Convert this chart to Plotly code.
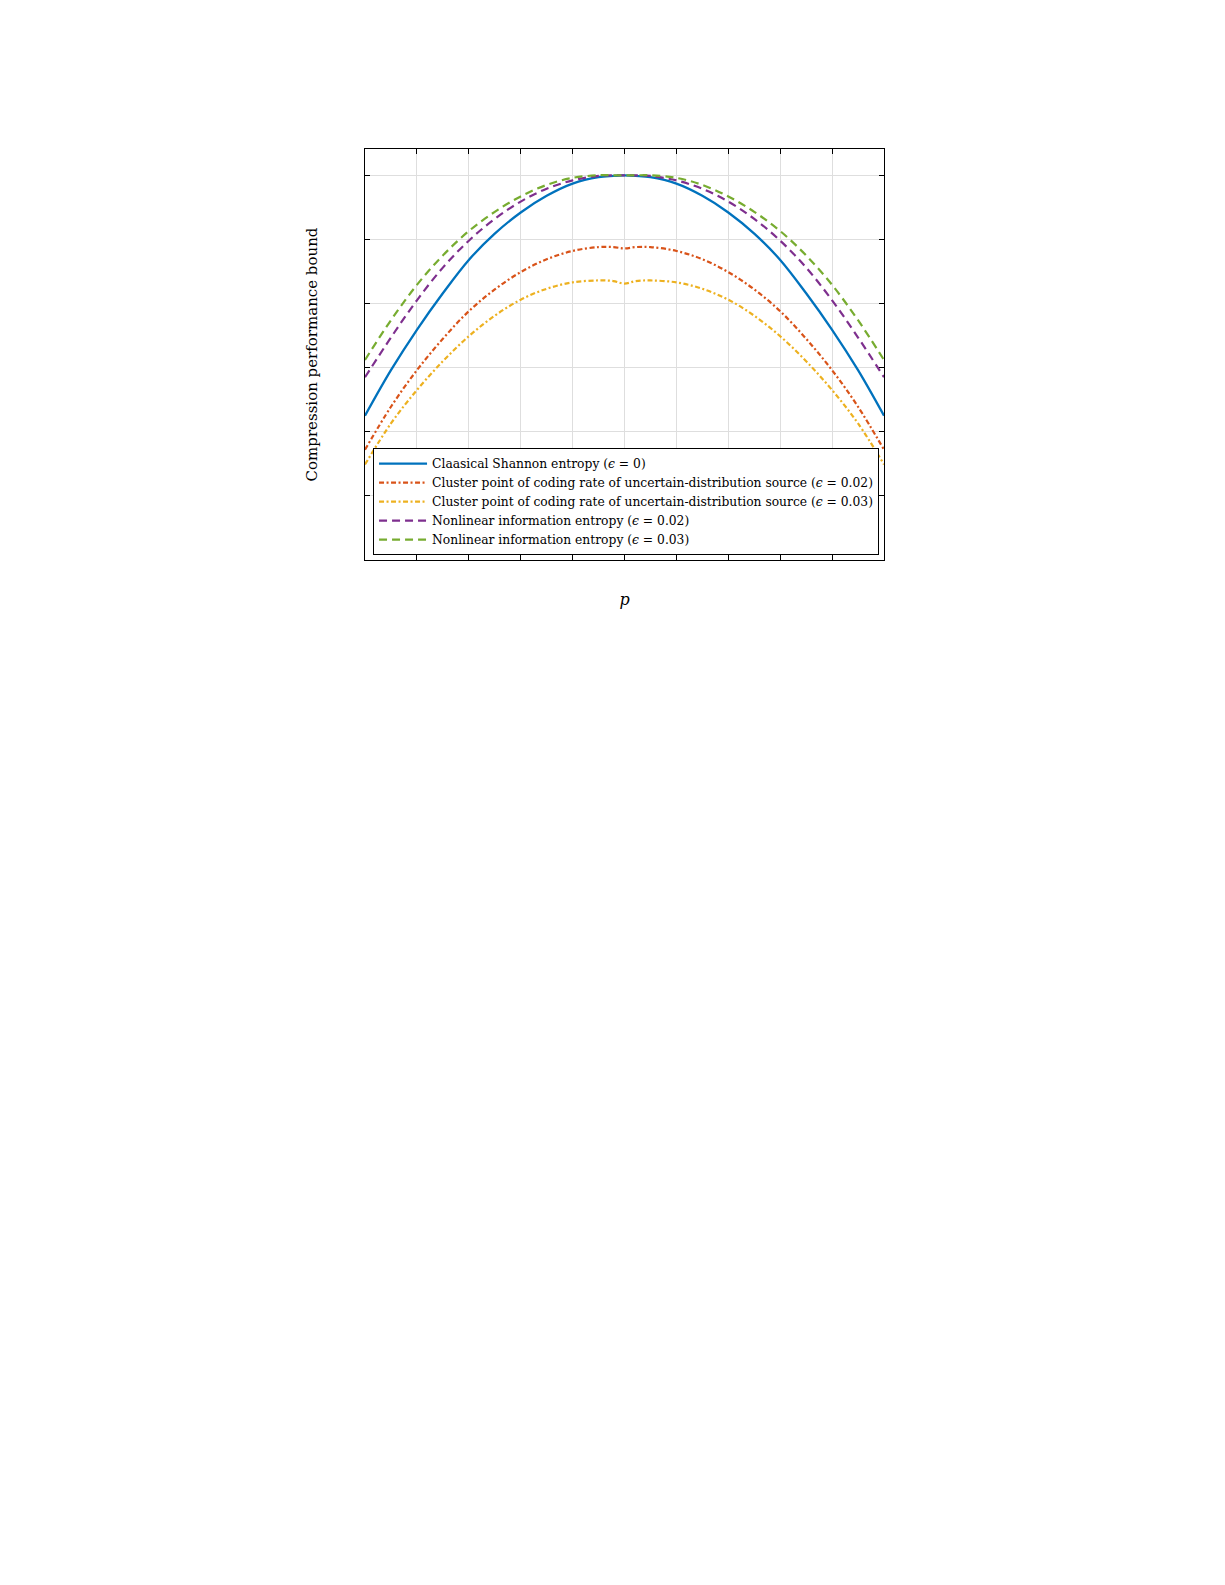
import plotly.graph_objects as go

# ---- data ----
p_values = [0.15, 0.185, 0.22, 0.255, 0.29, 0.325, 0.36, 0.395, 0.43, 0.465, 0.485, 0.5,
            0.515, 0.535, 0.57, 0.605, 0.64, 0.675, 0.71, 0.745, 0.78, 0.815, 0.85]

shannon = [0.625, 0.696, 0.759, 0.816, 0.868, 0.909, 0.942, 0.968, 0.987, 0.997, 0.999, 1.000,
           0.999, 0.997, 0.987, 0.968, 0.942, 0.909, 0.868, 0.816, 0.759, 0.696, 0.625]
cluster_002 = [0.572, 0.639, 0.696, 0.745, 0.788, 0.822, 0.849, 0.869, 0.882, 0.888, 0.888, 0.886,
               0.888, 0.888, 0.882, 0.869, 0.849, 0.822, 0.788, 0.745, 0.696, 0.639, 0.572]
cluster_003 = [0.549, 0.613, 0.665, 0.710, 0.749, 0.781, 0.806, 0.823, 0.833, 0.836, 0.835, 0.831,
               0.835, 0.836, 0.833, 0.823, 0.806, 0.781, 0.749, 0.710, 0.665, 0.613, 0.549]
nonlin_002 = [0.685, 0.747, 0.805, 0.856, 0.898, 0.932, 0.959, 0.979, 0.992, 0.999, 1.000, 1.000,
              1.000, 0.999, 0.992, 0.979, 0.959, 0.932, 0.898, 0.856, 0.805, 0.747, 0.685]
nonlin_003 = [0.712, 0.774, 0.829, 0.875, 0.913, 0.943, 0.967, 0.985, 0.996, 1.000, 1.000, 1.000,
              1.000, 1.000, 0.996, 0.985, 0.967, 0.943, 0.913, 0.875, 0.829, 0.774, 0.712]

series_names = [
    "Claasical Shannon entropy (<i>ϵ</i> = 0)",
    "Cluster point of coding rate of uncertain-distribution source (<i>ϵ</i> = 0.02)",
    "Cluster point of coding rate of uncertain-distribution source (<i>ϵ</i> = 0.03)",
    "Nonlinear information entropy (<i>ϵ</i> = 0.02)",
    "Nonlinear information entropy (<i>ϵ</i> = 0.03)",
]
x_grid = [0.15, 0.22, 0.29, 0.36, 0.43, 0.50, 0.57, 0.64, 0.71, 0.78, 0.85]
y_grid = [0.5, 0.6, 0.7, 0.8, 0.9, 1.0]

series = [shannon, cluster_002, cluster_003, nonlin_002, nonlin_003]
colors = ["#0072BD", "#D95319", "#EDB120", "#7E2F8E", "#77AC30"]
dashes = ["solid", "5px,2.5px,2px,2.5px", "5px,2.5px,2px,2.5px", "8px,5px", "8px,5px"]
widths = [2.3, 2.2, 2.2, 2.2, 2.2]

SERIF = "DejaVu Serif, Liberation Serif, serif"

fig = go.Figure()
for name, ys, c, d, w in zip(series_names, series, colors, dashes, widths):
    fig.add_trace(go.Scatter(
        x=p_values, y=ys, mode="lines", name=name,
        line=dict(color=c, width=w, dash=d, shape="spline", smoothing=1.0),
    ))

axis_common = dict(
    showline=True, linecolor="black", linewidth=1, mirror="ticks",
    ticks="inside", ticklen=5, tickcolor="black",
    showgrid=True, gridcolor="#dedede", gridwidth=1,
    showticklabels=False, zeroline=False,
)

fig.update_xaxes(range=[0.15, 0.85], tickvals=x_grid,
                 title=dict(text="<i>p</i>", font=dict(family=SERIF, size=16, color="black"), standoff=33),
                 **axis_common)
fig.update_yaxes(range=[0.4, 1.041], tickvals=y_grid,
                 title=dict(text="Compression performance bound",
                            font=dict(family=SERIF, size=15, color="black"), standoff=42),
                 **axis_common)

fig.update_layout(
    width=1209, height=1545,
    margin=dict(l=357, r=333, t=141, b=993),
    paper_bgcolor="white", plot_bgcolor="white",
    font=dict(family=SERIF, color="black"),
    showlegend=True,
    legend=dict(
        x=0.0155, y=0.012, xanchor="left", yanchor="bottom",
        bgcolor="white", bordercolor="black", borderwidth=1,
        font=dict(family=SERIF, size=12.3, color="black"),
        itemwidth=48, tracegroupgap=0,
    ),
)

fig.write_html("out.html")
